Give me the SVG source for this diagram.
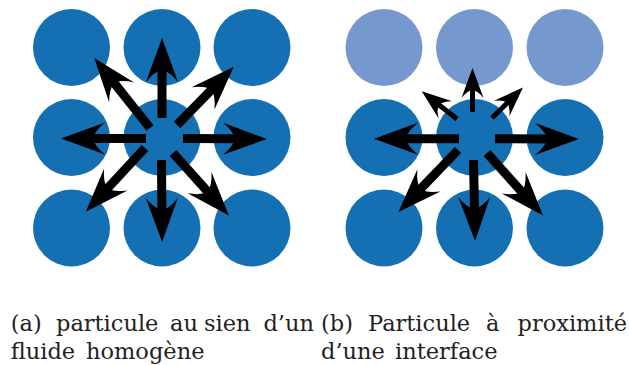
<svg xmlns="http://www.w3.org/2000/svg" width="629" height="365" viewBox="0 0 629 365">
<style>
.p{fill:#1570b3}
.l{fill:#7599cf}
.a{stroke:#000;stroke-width:9;fill:none;marker-end:url(#h)}
.s{stroke:#000;stroke-width:5;fill:none;marker-end:url(#hs)}
</style>
<defs>
<marker id="h" markerUnits="userSpaceOnUse" markerWidth="44" markerHeight="32" refX="14" refY="16" orient="auto" overflow="visible">
<path d="M44,16 L0,0 Q11,9 12,16 Q11,23 0,32 Z" fill="#000"/>
</marker>
<marker id="hs" markerUnits="userSpaceOnUse" markerWidth="30" markerHeight="22" refX="10" refY="11" orient="auto" overflow="visible">
<path d="M30,11 L0,0 Q7.5,6 8,11 Q7.5,16 0,22 Z" fill="#000"/>
</marker>
</defs>
<g id="panel-a">
<g id="a-particles">
<circle class="p" cx="71.5" cy="47.5" r="38.5"/>
<circle class="p" cx="162" cy="47.5" r="38.5"/>
<circle class="p" cx="252" cy="47.5" r="38.5"/>
<circle class="p" cx="71.5" cy="137.5" r="38.5"/>
<circle class="p" cx="162" cy="137.5" r="38.5"/>
<circle class="p" cx="252" cy="137.5" r="38.5"/>
<circle class="p" cx="71.5" cy="228" r="38.5"/>
<circle class="p" cx="162" cy="228" r="38.5"/>
<circle class="p" cx="252" cy="228" r="38.5"/>
</g>
<g id="a-connectors">
<line class="a" x1="183" y1="138.5" x2="237" y2="138.8"/>
<line class="a" x1="146" y1="138.5" x2="91" y2="138.5"/>
<line class="a" x1="162" y1="118" x2="162" y2="68"/>
<line class="a" x1="161.5" y1="160" x2="161.9" y2="212"/>
<line class="a" x1="150" y1="128" x2="112.9" y2="81.4"/>
<line class="a" x1="177" y1="125" x2="212.8" y2="88.3"/>
<line class="a" x1="145" y1="148" x2="106.2" y2="189.8"/>
<line class="a" x1="173" y1="153" x2="208.9" y2="193.1"/>
</g>
</g>
<g id="panel-b">
<g id="b-particles">
<circle class="l" cx="384" cy="47.5" r="38.5"/>
<circle class="l" cx="474.5" cy="47.5" r="38.5"/>
<circle class="l" cx="565" cy="47.5" r="38.5"/>
<circle class="p" cx="384" cy="137.5" r="38.5"/>
<circle class="p" cx="474.5" cy="137.5" r="38.5"/>
<circle class="p" cx="565" cy="137.5" r="38.5"/>
<circle class="p" cx="384" cy="228" r="38.5"/>
<circle class="p" cx="474.5" cy="228" r="38.5"/>
<circle class="p" cx="565" cy="228" r="38.5"/>
</g>
<g id="b-connectors">
<line class="a" x1="495" y1="138.8" x2="549" y2="139"/>
<line class="a" x1="459" y1="138.8" x2="404" y2="138.8"/>
<line class="a" x1="473.5" y1="160" x2="474.5" y2="211"/>
<line class="a" x1="458" y1="150" x2="419.2" y2="190.4"/>
<line class="a" x1="487" y1="153" x2="523" y2="193.2"/>
<line class="s" x1="472.5" y1="112" x2="472.5" y2="88"/>
<line class="s" x1="457" y1="119" x2="437.5" y2="103.7"/>
<line class="s" x1="492" y1="118" x2="508.7" y2="101.6"/>
</g>
</g>
<g id="captions" font-family="DejaVu Serif" font-size="22.5" fill="#222">
<text y="331"><tspan x="10.7">(a)</tspan> <tspan x="56">particule</tspan> <tspan x="170">au</tspan> <tspan x="204">sien</tspan></text>
<text y="331" x="314" text-anchor="end">d’un</text>
<text y="359"><tspan x="10.7">fluide</tspan> <tspan x="86">homogène</tspan></text>
<text y="331"><tspan x="321">(b)</tspan> <tspan x="368">Particule</tspan> <tspan x="486">à</tspan></text>
<text y="331" x="627" text-anchor="end">proximité</text>
<text y="359"><tspan x="321">d’une</tspan> <tspan x="395">interface</tspan></text>
</g>
</svg>
